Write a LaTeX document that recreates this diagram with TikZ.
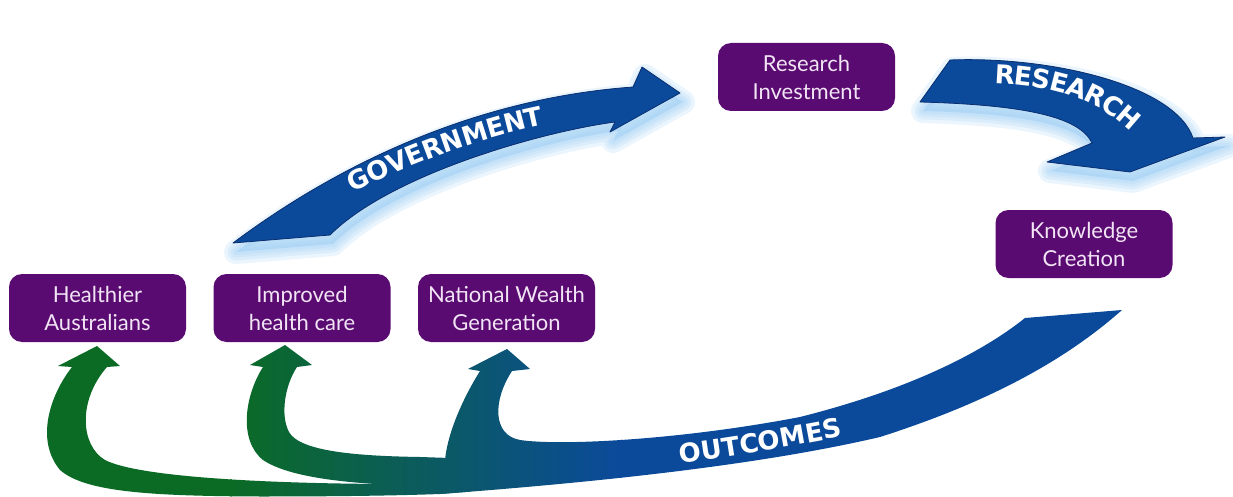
\documentclass[tikz,border=0pt]{standalone}
\usepackage{fontspec}
\setmainfont{Lato}
\newfontfamily\arrowfont{DejaVu Sans}
\usetikzlibrary{decorations.text}

\definecolor{boxpurple}{HTML}{5A0B72}
\definecolor{boxtext}{HTML}{F1E4F4}
\definecolor{arrowblue}{HTML}{0B4A9B}
\definecolor{arrowedge}{HTML}{0A2E6E}
\definecolor{glowblue}{HTML}{9FD0F5}
\definecolor{flowgreen}{HTML}{0B6B24}
\definecolor{flowteal}{HTML}{0D5A72}

\tikzset{
  stagebox/.style={rectangle, rounded corners=13pt, fill=boxpurple, text=boxtext,
    minimum width=177pt, minimum height=68pt, align=center, inner sep=0pt,
    font=\fontsize{22}{28}\selectfont},
  bigarrow/.style={fill=arrowblue, draw=arrowedge, line width=0.8pt, line join=round},
  glowline/.style={draw=glowblue, line join=round, opacity=0.2},
  arrowlabel/.style={decorate, decoration={text along path, text align=center,
    text color=white, raise=-10pt, text={|\arrowfont\bfseries\fontsize{26}{26}\selectfont|#1}}}
}

% outlines of the three arrows (pixel-like units, y pointing down)
\newcommand\govshape{(233,243) .. controls (313,183) and (453,100) .. (633,87)
  -- (642,67) -- (680,93) -- (610,132) -- (615,122)
  .. controls (540,132) and (390,175) .. (330,235) -- cycle}
\newcommand\resshape{(950,60) .. controls (1050,56) and (1175,85) .. (1193,138)
  -- (1225,137) -- (1130,172) -- (1047,162) -- (1092,143)
  .. controls (1080,118) and (1030,105) .. (920,102) -- cycle}
% outcomes: main band ending in the branch to "National Wealth Generation"
\newcommand\flowmain{(1025,318) .. controls (985,350) and (915,388) .. (800,417)
  .. controls (680,440) and (560,446) .. (520,440)
  .. controls (492,435) and (493,400) .. (512,371)
  -- (530,369) -- (507,349) -- (468,369) -- (480,371)
  .. controls (465,395) and (448,430) .. (445,460) -- (440,494)
  .. controls (600,482) and (760,465) .. (880,437)
  .. controls (980,405) and (1060,365) .. (1122,310) -- cycle}
% branch to "Improved health care"
\newcommand\flowmid{(450,458) -- (420,457) .. controls (360,456) and (300,452) .. (289,432)
  .. controls (280,415) and (285,385) .. (297,367)
  -- (312,365) -- (285,345) -- (250,365) -- (263,367)
  .. controls (245,395) and (238,440) .. (263,460)
  .. controls (290,478) and (350,484) .. (420,486) -- (470,488) -- (470,458) -- cycle}
% branch to "Healthier Australians"
\newcommand\flowleft{(470,486) -- (400,484) .. controls (280,484) and (140,478) .. (105,460)
  .. controls (80,445) and (78,400) .. (107,367)
  -- (120,366) -- (97,346) -- (58,366) -- (72,367)
  .. controls (50,395) and (35,440) .. (60,470)
  .. controls (85,492) and (150,496) .. (260,496.5)
  .. controls (340,496.5) and (400,495.5) .. (440,494) -- (470,491.6) -- cycle}

% colour run of the outcomes arrow: green on the left, blue on the right
\newcommand\flowfill{%
  \fill[flowgreen] (0,300) rectangle (232,497);
  \shade[left color=flowgreen, middle color=flowteal, right color=arrowblue] (230,300) rectangle (622,497);
  \fill[arrowblue] (620,300) rectangle (1233,497);}

% soft light-blue glow under an arrow
\newcommand\arrowglow[1]{%
  \begin{scope}[shift={(3,9)}]
    \foreach \w in {24,17,11,6} {\draw[glowline, line width=\w pt] #1;}
    \fill[glowblue, opacity=0.55] #1;
  \end{scope}}

\begin{document}
\begin{tikzpicture}[x=1pt, y=-1pt]
  \useasboundingbox (0,0) rectangle (1233,497);
  \fill[white] (0,0) rectangle (1233,497);

  % glows
  \arrowglow{\govshape}
  \arrowglow{\resshape}

  % outcomes arrow with its three branches
  \begin{scope}\clip \flowleft; \flowfill \end{scope}
  \begin{scope}\clip \flowmid; \flowfill \end{scope}
  \begin{scope}\clip \flowmain; \flowfill \end{scope}

  % government and research arrows
  \path[bigarrow] \govshape;
  \path[bigarrow] \resshape;

  % arrow labels
  \path[arrowlabel=GOVERNMENT] (317,200) .. controls (377,167) and (482,121) .. (577,109);
  \path[arrowlabel=RESEARCH] (962,74) .. controls (1050,70) and (1120,90) .. (1158,150);
  \path[arrowlabel=OUTCOMES] (640,459) .. controls (720,448) and (800,436) .. (880,418);

  % stages
  \node[stagebox] (invest) at (806.5,77) {Research\\Investment};
  \node[stagebox] (knowledge) at (1084,244) {Knowledge\\Creation};
  \node[stagebox] (healthier) at (97.5,308) {Healthier\\Australians};
  \node[stagebox] (healthcare) at (302,308) {Improved\\health care};
  \node[stagebox] (wealth) at (506.5,308) {National Wealth\\Generation};
\end{tikzpicture}
\end{document}
